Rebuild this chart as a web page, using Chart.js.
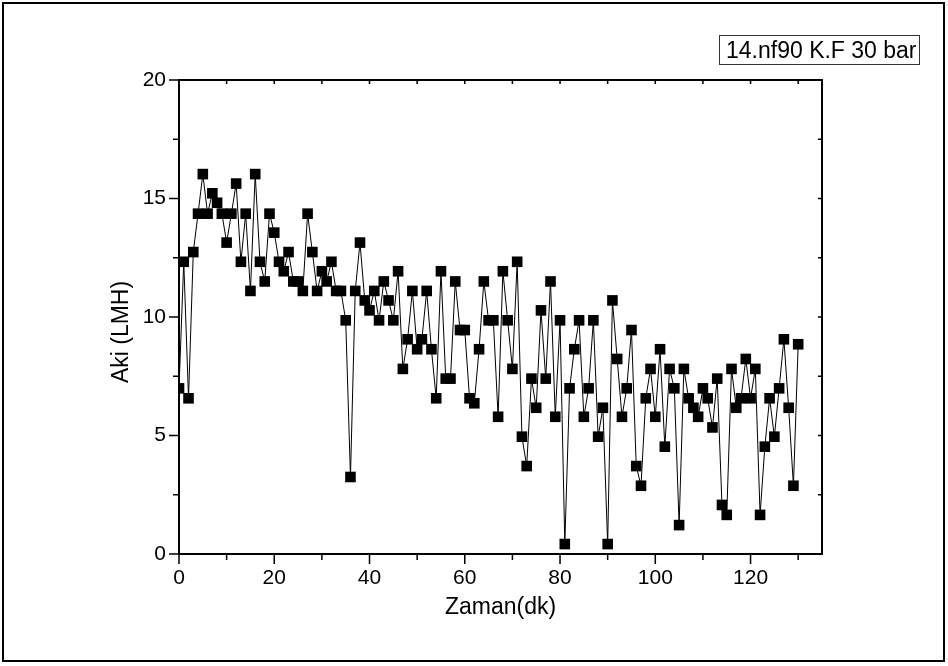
<!DOCTYPE html>
<html>
<head>
<meta charset="utf-8">
<script src="https://cdn.jsdelivr.net/npm/chart.js@4.4.0/dist/chart.umd.min.js"></script>
<style>
  html, body { margin: 0; padding: 0; background: #fff; }
  #wrap { position: relative; width: 948px; height: 666px; }
</style>
</head>
<body>
<div id="wrap"><canvas id="chart" width="948" height="666"></canvas></div>
<script>
// zaman (dk) and aki (LMH)
var zaman = [0, 1, 2, 3, 4, 5, 6, 7, 8, 9,
    10, 11, 12, 13, 14, 15, 16, 17, 18, 19,
    20, 21, 22, 23, 24, 25, 26, 27, 28, 29,
    30, 31, 32, 33, 34, 35, 36, 37, 38, 39,
    40, 41, 42, 43, 44, 45, 46, 47, 48, 49,
    50, 51, 52, 53, 54, 55, 56, 57, 58, 59,
    60, 61, 62, 63, 64, 65, 66, 67, 68, 69,
    70, 71, 72, 73, 74, 75, 76, 77, 78, 79,
    80, 81, 82, 83, 84, 85, 86, 87, 88, 89,
    90, 91, 92, 93, 94, 95, 96, 97, 98, 99,
    100, 101, 102, 103, 104, 105, 106, 107, 108, 109,
    110, 111, 112, 113, 114, 115, 116, 117, 118, 119,
    120, 121, 122, 123, 124, 125, 126, 127, 128, 129,
    130];
var aki = [6.99, 12.33, 6.57, 12.74, 14.36, 16.03, 14.36, 15.22, 14.82, 14.36,
    13.14, 14.36, 15.63, 12.33, 14.36, 11.1, 16.03, 12.33, 11.5, 14.36,
    13.56, 12.33, 11.93, 12.74, 11.5, 11.5, 11.1, 14.36, 12.74, 11.1,
    11.93, 11.5, 12.33, 11.1, 11.1, 9.86, 3.25, 11.1, 13.14, 10.7,
    10.28, 11.1, 9.86, 11.5, 10.7, 9.86, 11.93, 7.81, 9.06, 11.1,
    8.64, 9.06, 11.1, 8.64, 6.57, 11.93, 7.4, 7.4, 11.5, 9.45,
    9.45, 6.57, 6.36, 8.64, 11.5, 9.86, 9.86, 5.79, 11.93, 9.86,
    7.81, 12.33, 4.95, 3.71, 7.4, 6.17, 10.28, 7.4, 11.5, 5.79,
    9.86, 0.42, 6.99, 8.64, 9.86, 5.79, 6.99, 9.86, 4.95, 6.17,
    0.42, 10.7, 8.23, 5.79, 6.99, 9.45, 3.71, 2.88, 6.57, 7.81,
    5.79, 8.64, 4.53, 7.81, 6.99, 1.22, 7.81, 6.57, 6.17, 5.79,
    6.99, 6.57, 5.34, 7.4, 2.07, 1.65, 7.81, 6.17, 6.57, 8.23,
    6.57, 7.81, 1.65, 4.53, 6.57, 4.95, 6.99, 9.06, 6.17, 2.88,
    8.85];

var xMajor = [0, 20, 40, 60, 80, 100, 120];
var xMinor = [10, 30, 50, 70, 90, 110, 130];
var yMajor = [0, 5, 10, 15, 20];
var yMinor = [2.5, 7.5, 12.5, 17.5];

var xTitle = 'Zaman(dk)';
var yTitle = 'Aki (LMH)';
var legendText = '14.nf90 K.F 30 bar';

var FONT = '"Liberation Sans", Arial, sans-serif';

var points = zaman.map(function (t, i) { return { x: t, y: aki[i] }; });

// frame, origin-style ticks, axis titles and the text box
var originFrame = {
    id: 'originFrame',
    afterDraw: function (chart) {
        var ctx = chart.ctx;
        var a = chart.chartArea;
        var sx = chart.scales.x;
        var sy = chart.scales.y;
        ctx.save();
        ctx.strokeStyle = '#000';
        ctx.fillStyle = '#000';

        // outer border of the figure
        ctx.lineWidth = 2;
        ctx.strokeRect(3, 3, 941, 658);

        ctx.strokeRect(a.left, a.top, a.right - a.left, a.bottom - a.top);

        ctx.lineWidth = 1.5;
        ctx.beginPath();
        xMajor.forEach(function (v) {
            var p = sx.getPixelForValue(v);
            ctx.moveTo(p, a.bottom); ctx.lineTo(p, a.bottom + 10);
            ctx.moveTo(p, a.top); ctx.lineTo(p, a.top + 4);
        });
        xMinor.forEach(function (v) {
            var p = sx.getPixelForValue(v);
            ctx.moveTo(p, a.bottom); ctx.lineTo(p, a.bottom + 6);
            ctx.moveTo(p, a.top); ctx.lineTo(p, a.top + 4);
        });
        yMajor.forEach(function (v) {
            var p = sy.getPixelForValue(v);
            ctx.moveTo(a.left, p); ctx.lineTo(a.left - 10, p);
            ctx.moveTo(a.right, p); ctx.lineTo(a.right - 4, p);
        });
        yMinor.forEach(function (v) {
            var p = sy.getPixelForValue(v);
            ctx.moveTo(a.left, p); ctx.lineTo(a.left - 6, p);
            ctx.moveTo(a.right, p); ctx.lineTo(a.right - 4, p);
        });
        ctx.stroke();

        // axis titles
        ctx.font = '23px ' + FONT;
        ctx.textAlign = 'center';
        ctx.textBaseline = 'middle';
        ctx.fillText(xTitle, (a.left + a.right) / 2, 608);
        ctx.save();
        ctx.translate(122, 332);
        ctx.rotate(-Math.PI / 2);
        ctx.fillText(yTitle, 0, 0);
        ctx.restore();

        // text box, top right
        ctx.lineWidth = 1;
        ctx.strokeStyle = '#333';
        ctx.strokeRect(719.5, 35.5, 200, 29);
        ctx.textAlign = 'left';
        ctx.textBaseline = 'alphabetic';
        ctx.fillText(legendText, 726, 58);
        ctx.restore();
    }
};

new Chart(document.getElementById('chart'), {
    type: 'line',
    data: {
        datasets: [{
            label: legendText,
            data: points,
            borderColor: '#000',
            borderWidth: 1,
            backgroundColor: '#000',
            pointStyle: 'rect',
            pointRadius: 7.5,
            pointBorderWidth: 0,
            pointBackgroundColor: '#000',
            tension: 0
        }]
    },
    options: {
        responsive: false,
        devicePixelRatio: 1,
        animation: false,
        layout: {
            padding: { left: 0, top: 80, right: 126, bottom: 0 }
        },
        plugins: {
            legend: { display: false },
            tooltip: { enabled: false }
        },
        scales: {
            x: {
                type: 'linear',
                min: 0,
                max: 135,
                grid: { display: false },
                border: { display: false },
                afterFit: function (scale) { scale.height = 112; },
                afterBuildTicks: function (scale) {
                    scale.ticks = xMajor.map(function (v) { return { value: v }; });
                },
                ticks: {
                    color: '#000',
                    padding: 4,
                    maxRotation: 0,
                    font: { family: FONT, size: 21 }
                }
            },
            y: {
                min: 0,
                max: 20,
                grid: { display: false },
                border: { display: false },
                afterFit: function (scale) { scale.width = 179; },
                afterBuildTicks: function (scale) {
                    scale.ticks = yMajor.map(function (v) { return { value: v }; });
                },
                ticks: {
                    color: '#000',
                    padding: 5,
                    font: { family: FONT, size: 21 }
                }
            }
        }
    },
    plugins: [originFrame]
});
</script>
</body>
</html>
